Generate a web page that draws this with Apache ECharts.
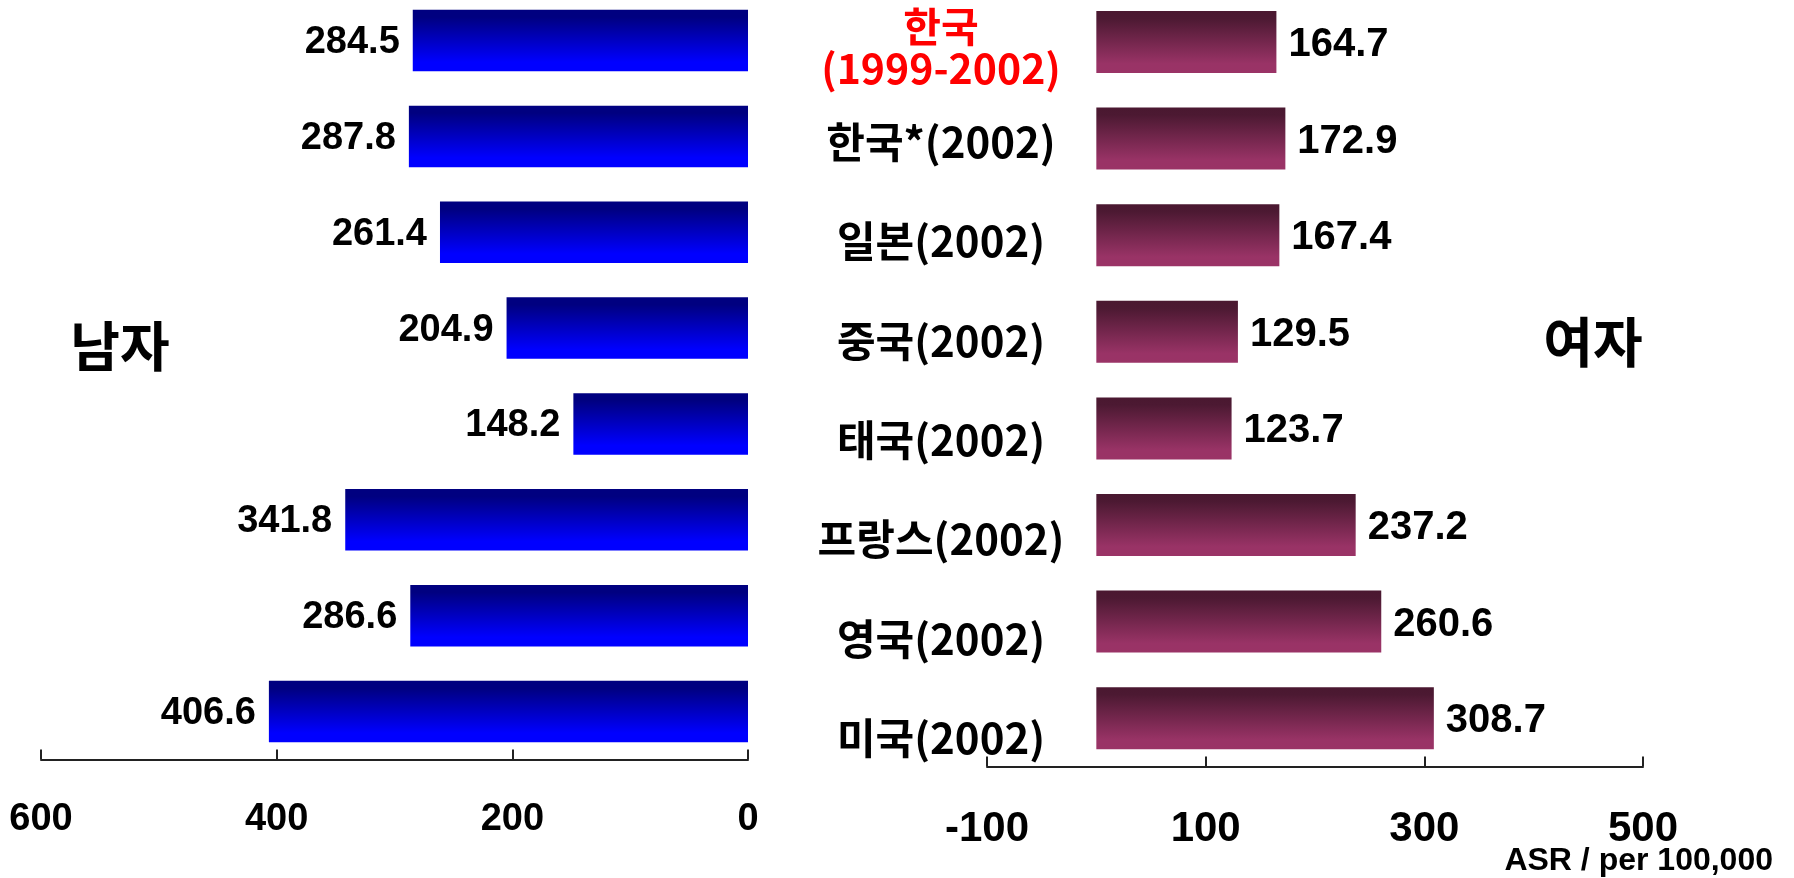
<!DOCTYPE html>
<html>
<head>
<meta charset="utf-8">
<script src="https://cdn.jsdelivr.net/npm/echarts@6/dist/echarts.min.js"></script>
<style>
html,body{margin:0;padding:0;background:#fff;}
#chart{width:1794px;height:878px;}
</style>
</head>
<body>
<div id="chart"></div>
<script>
var categories = ['한국\n(1999-2002)', '한국*(2002)', '일본(2002)', '중국(2002)', '태국(2002)', '프랑스(2002)', '영국(2002)', '미국(2002)'];
var maleValues = [284.5, 287.8, 261.4, 204.9, 148.2, 341.8, 286.6, 406.6];
var femaleValues = [164.7, 172.9, 167.4, 129.5, 123.7, 237.2, 260.6, 308.7];
var maleTicks = [0, 200, 400, 600];
var femaleTicks = [-100, 100, 300, 500];
var maleTitle = '남자';
var femaleTitle = '여자';
var unitText = 'ASR / per 100,000';

var chart = echarts.init(document.getElementById('chart'));
var latin = '"Liberation Sans", Arial, sans-serif';
var kor = '"Noto Sans CJK KR", sans-serif';

var blueGrad = new echarts.graphic.LinearGradient(0, 0, 0, 1, [
  {offset: 0, color: '#000080'}, {offset: 0.12, color: '#000080'},
  {offset: 0.85, color: '#0000FF'}, {offset: 1, color: '#0000FF'}
]);
var wineGrad = new echarts.graphic.LinearGradient(0, 0, 0, 1, [
  {offset: 0, color: '#4A1830'}, {offset: 0.12, color: '#4C1932'},
  {offset: 0.85, color: '#993366'}, {offset: 1, color: '#9A3366'}
]);

var axisLineStyle = {show: true, lineStyle: {color: '#222', width: 2}};
var axisTickStyle = function (vals) {
  return {show: true, inside: true, length: 10, lineStyle: {color: '#222', width: 2}, customValues: vals};
};

var option = {
  backgroundColor: '#fff',
  animation: false,
  grid: [
    {left: 41, right: 1046, top: -7.4, bottom: 118.5, outerBoundsMode: 'none', containLabel: false},
    {left: 987, right: 151, top: -6.3, bottom: 111.5, outerBoundsMode: 'none', containLabel: false},
    {left: 941, width: 1, top: -7, bottom: 90.3, outerBoundsMode: 'none', containLabel: false}
  ],
  xAxis: [
    {
      gridIndex: 0, type: 'value', min: 0, max: 600, inverse: true,
      splitLine: {show: false},
      axisLine: axisLineStyle, axisTick: axisTickStyle(maleTicks),
      axisLabel: {customValues: maleTicks, margin: 41, color: '#000', fontFamily: latin, fontWeight: 'bold', fontSize: 38}
    },
    {
      gridIndex: 1, type: 'value', min: -100, max: 500,
      splitLine: {show: false},
      axisLine: axisLineStyle, axisTick: axisTickStyle(femaleTicks),
      axisLabel: {customValues: femaleTicks, margin: 42, color: '#000', fontFamily: latin, fontWeight: 'bold', fontSize: 42}
    },
    {gridIndex: 2, type: 'value', show: false}
  ],
  yAxis: [
    {gridIndex: 0, type: 'category', data: categories, inverse: true, show: false},
    {gridIndex: 1, type: 'category', data: categories, inverse: true, show: false},
    {
      gridIndex: 2, type: 'category', data: categories, inverse: true,
      axisLine: {show: false}, axisTick: {show: false}, splitLine: {show: false},
      axisLabel: {
        margin: 0, align: 'center', verticalAlign: 'middle',
        formatter: function (v, i) {
          var lines = v.split('\n');
          var key = i === 0 ? 'r' : 'b';
          return lines.map(function (l) { return '{' + key + '|' + l + '}'; }).join('\n');
        },
        rich: {
          r: {color: '#FF0000', fontFamily: kor, fontWeight: 'bold', fontSize: 41, lineHeight: 42, padding: [10, 0, 0, 0], align: 'center'},
          b: {color: '#000', fontFamily: kor, fontWeight: 'bold', fontSize: 42, lineHeight: 46, align: 'center'}
        }
      }
    }
  ],
  series: [
    {
      type: 'bar', xAxisIndex: 0, yAxisIndex: 0, data: maleValues, barWidth: 61.5,
      itemStyle: {color: blueGrad},
      label: {show: true, position: 'left', distance: 13, offset: [0, 2], color: '#000', fontFamily: latin, fontWeight: 'bold', fontSize: 38}
    },
    {
      type: 'bar', xAxisIndex: 1, yAxisIndex: 1, data: femaleValues, barWidth: 62,
      itemStyle: {color: wineGrad},
      label: {show: true, position: 'right', distance: 12, offset: [0, 3], color: '#000', fontFamily: latin, fontWeight: 'bold', fontSize: 40}
    }
  ],
  graphic: [
    {type: 'text', x: 120, y: 346, style: {text: maleTitle, fill: '#000', font: 'bold 54px "Noto Sans CJK KR", sans-serif', align: 'center', verticalAlign: 'middle', textAlign: 'center', textVerticalAlign: 'middle'}},
    {type: 'text', x: 1593, y: 342, style: {text: femaleTitle, fill: '#000', font: 'bold 54px "Noto Sans CJK KR", sans-serif', align: 'center', verticalAlign: 'middle', textAlign: 'center', textVerticalAlign: 'middle'}},
    {type: 'text', x: 1773, y: 861, style: {text: unitText, fill: '#000', font: 'bold 32px "Liberation Sans", Arial, sans-serif', align: 'right', verticalAlign: 'middle', textAlign: 'right', textVerticalAlign: 'middle'}}
  ]
};
chart.setOption(option);
</script>
</body>
</html>
